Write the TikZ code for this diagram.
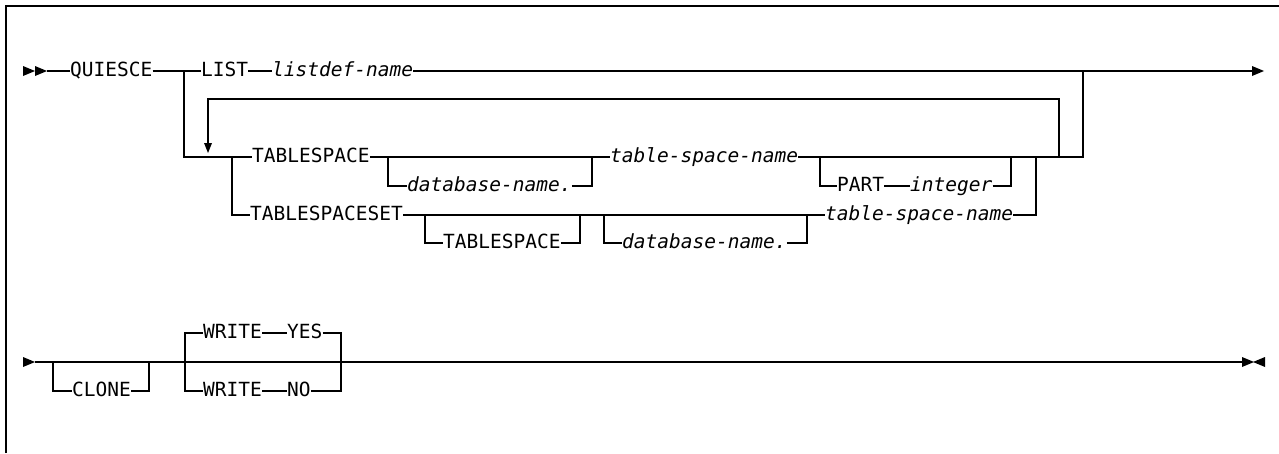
\documentclass[tikz,border=0pt]{standalone}
\usepackage{fontspec}
\newfontfamily\rrfont{DejaVu Sans Mono}
\begin{document}
\begin{tikzpicture}[x=1pt,y=-1pt,
  kw/.style={inner sep=0pt, anchor=west, text height=14pt, text depth=4pt, font=\rrfont\fontsize{19.5}{22}\selectfont},
  var/.style={kw, font=\rrfont\itshape\fontsize{19.5}{22}\selectfont},
  rail/.style={line width=1.3pt, line join=miter},
  tipfill/.style={fill=black, draw=none}]
\useasboundingbox (0,0) rectangle (1279,453);
% frame
\draw[line width=2pt] (6,453) -- (6,6) -- (1279,6);

% ---------- row 1 ----------
\coordinate (s1) at (47,71);
\fill[tipfill] (23,66) -- (35,71) -- (23,76) -- cycle;
\fill[tipfill] (35,66) -- (47,71) -- (35,76) -- cycle;
\node[kw] (quiesce) at (70,71) {QUIESCE};
\coordinate (j1) at (184,71);
\node[kw] (list) at (201,71) {LIST};
\node[var] (listdef) at (272,71) {listdef-name};
\coordinate (jr) at (1083,71);
\coordinate (e1) at (1252,71);
\draw[rail] (s1) -- (quiesce.west);
\draw[rail] (quiesce.east) -- (list.west);
\draw[rail] (list.east) -- (listdef.west);
\draw[rail] (listdef.east) -- (e1);
\fill[tipfill] (1252,66) -- (1264,71) -- (1252,76) -- cycle;

% repeat loop
\coordinate (la) at (208,99);
\coordinate (lb) at (1059,99);
\coordinate (lc) at (1059,157);
\coordinate (ltip) at (208,153);
\draw[rail] (lc) -- (lb) -- (la) -- (208,144);
\fill[tipfill] (204,143) -- (212,143) -- (ltip) -- cycle;

% ---------- TABLESPACE row ----------
\coordinate (j2) at (232,157);
\node[kw] (ts) at (252,157) {TABLESPACE};
\coordinate (o1a) at (388,157);
\node[var] (db1) at (407,186) {database-name.};
\coordinate (o1b) at (592,157);
\node[var] (tsn1) at (610,157) {table-space-name};
\coordinate (o2a) at (820,157);
\node[kw] (part) at (837,186) {PART};
\node[var] (int) at (910,186) {integer};
\coordinate (o2b) at (1011,157);
\coordinate (jr2) at (1083,157);
\draw[rail] (j1) |- (ts.west);
\draw[rail] (ts.east) -- (tsn1.west);
\draw[rail] (o1a) |- (db1.west);
\draw[rail] (db1.east) -| (o1b);
\draw[rail] (tsn1.east) -- (jr2) -- (jr);
\draw[rail] (o2a) |- (part.west);
\draw[rail] (part.east) -- (int.west);
\draw[rail] (int.east) -| (o2b);

% ---------- TABLESPACESET row ----------
\node[kw] (tss) at (250,215) {TABLESPACESET};
\coordinate (o3a) at (425,215);
\node[kw] (ts2) at (443,243) {TABLESPACE};
\coordinate (o3b) at (580,215);
\coordinate (o4a) at (604,215);
\node[var] (db2) at (622,243) {database-name.};
\coordinate (o4b) at (807,215);
\node[var] (tsn2) at (825,215) {table-space-name};
\coordinate (o5) at (1036,157);
\draw[rail] (j2) |- (tss.west);
\draw[rail] (tss.east) -- (tsn2.west);
\draw[rail] (o3a) |- (ts2.west);
\draw[rail] (ts2.east) -| (o3b);
\draw[rail] (o4a) |- (db2.west);
\draw[rail] (db2.east) -| (o4b);
\draw[rail] (tsn2.east) -| (o5);

% ---------- row 2 ----------
\coordinate (s2) at (35,362);
\fill[tipfill] (23,357) -- (35,362) -- (23,367) -- cycle;
\coordinate (c1) at (53,362);
\node[kw] (clone) at (72,391) {CLONE};
\coordinate (c2) at (149,362);
\coordinate (w1) at (185,362);
\node[kw] (write1) at (203,333) {WRITE};
\node[kw] (yes) at (287,333) {YES};
\node[kw] (write2) at (203,391) {WRITE};
\node[kw] (no) at (287,391) {NO};
\coordinate (w2) at (341,362);
\coordinate (e2) at (1242,362);
\draw[rail] (s2) -- (e2);
\draw[rail] (c1) |- (clone.west);
\draw[rail] (clone.east) -| (c2);
\draw[rail] (w1) |- (write1.west);
\draw[rail] (w1) |- (write2.west);
\draw[rail] (write1.east) -- (yes.west);
\draw[rail] (write2.east) -- (no.west);
\draw[rail] (yes.east) -| (w2);
\draw[rail] (no.east) -| (w2);
\fill[tipfill] (1242,357) -- (1254,362) -- (1242,367) -- cycle;
\fill[tipfill] (1265,357) -- (1253,362) -- (1265,367) -- cycle;
\end{tikzpicture}
\end{document}
